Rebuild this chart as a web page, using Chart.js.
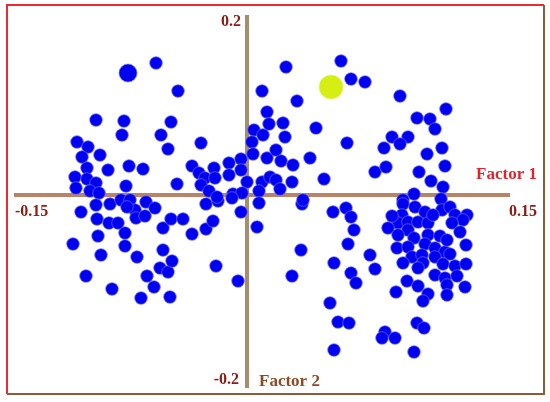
<!DOCTYPE html>
<html>
<head>
<meta charset="utf-8">
<script src="https://cdn.jsdelivr.net/npm/chart.js"></script>
<style>
  html, body { margin: 0; padding: 0; background: #fff; }
  canvas { display: block; }
</style>
</head>
<body>
<canvas id="c" width="550" height="402"></canvas>
<script>
// factor scores
var factor1 = [
  -0.0546,-0.0414,-0.0906,-0.0738,-0.0456,-0.075,-0.0516,-0.102,-0.0954,-0.0276,
  -0.0474,-0.099,-0.0882,-0.096,-0.0834,-0.0708,-0.0624,-0.033,-0.0288,-0.0198,
  -0.0108,-0.0036,-0.0108,-0.0036,-0.1032,-0.096,-0.0906,-0.1026,-0.0942,-0.0888,
  -0.0726,-0.042,-0.0252,-0.0192,-0.0276,-0.0228,0.0,-0.0084,-0.003,
  0.009,0.012,0.0132,0.0042,0.0096,0.003,0.0036,0.012,0.009,0.0072,
  0.0138,0.0234,0.0564,0.0624,0.0708,0.0918,0.03,0.1194,0.102,0.1098,
  0.1128,0.0216,0.0414,0.0228,0.087,0.0966,0.0918,0.06,0.0822,0.117,
  0.0174,0.108,0.0378,0.0204,0.0276,0.1188,0.0768,0.0834,0.1032,0.1104,
  0.1176,0.0462,0.027,0.0174,0.0198,0.1002,
  -0.0996,-0.0906,-0.0822,-0.09,-0.0828,-0.0774,-0.0732,-0.0894,-0.1044,-0.0732,
  -0.0876,-0.066,-0.0966,-0.06,-0.081,-0.0558,-0.0636,-0.0462,-0.0522,-0.0474,
  -0.045,-0.0504,-0.0504,-0.0456,-0.0384,-0.033,-0.0246,-0.0204,-0.0186,-0.0054,
  -0.0036,-0.0246,-0.0174,-0.009,-0.0756,-0.0702,-0.0672,-0.0666,-0.0612,-0.0606,
  -0.0552,-0.018,-0.072,
  0.0072,0.006,0.033,0.0516,0.0594,0.0624,0.0642,0.0606,0.0324,0.0522,
  0.027,0.0624,0.0654,0.0738,0.0768,0.0498,0.0546,0.0612,0.0522,0.0336,
  0.0936,0.1164,0.0936,0.1008,0.1068,0.117,0.1218,0.1248,0.132,0.1296,
  0.123,0.093,0.0906,0.0966,0.1026,0.0846,0.1086,0.0966,0.1278,0.0906,
  0.1002,0.1086,0.1158,0.1068,0.09,0.0966,0.1314,0.1128,0.1188,0.1218,
  0.099,0.105,0.1128,0.1056,0.1176,0.1248,0.1314,0.1128,0.1188,0.096,
  0.1026,0.0894,0.12,0.12,0.1308,0.1086,0.1056,0.102,0.1062,0.0828,
  0.081,0.0888,0.1002,0.087,0.1116,0.12,0.1026,0.126,0.0936
];
var factor2 = [
  0.1452,0.1144,0.0825,0.0814,0.0803,0.066,0.066,0.0583,0.0528,0.0572,
  0.0506,0.0418,0.044,0.0297,0.0275,0.0319,0.0286,0.0319,0.0242,0.0297,
  0.0352,0.0396,0.022,0.0275,0.0198,0.0176,0.0132,0.0077,0.0044,0.0022,
  0.0099,0.0121,0.0187,0.0187,0.011,0.0044,0.0143,0.0011,0.0022,
  0.1144,0.0913,0.0781,0.0715,0.066,0.0583,0.0451,0.0407,0.0143,0.0044,
  0.0198,0.1408,0.1474,0.1276,0.1243,0.1089,0.1034,0.0946,0.0847,0.0836,
  0.0726,0.0792,0.0737,0.0638,0.0638,0.0638,0.0561,0.0572,0.0517,0.0517,
  0.0495,0.0451,0.0407,0.0374,0.033,0.0319,0.0253,0.0308,0.0253,0.0154,
  0.0088,0.0176,0.0143,0.0165,0.0066,0.0011,
  -0.0187,-0.011,-0.0099,-0.0264,-0.0308,-0.0308,-0.0418,-0.0451,-0.0539,-0.0561,
  -0.066,-0.0682,-0.0891,-0.0891,-0.1034,-0.1012,-0.1133,-0.1122,-0.0803,-0.0847,
  -0.0726,-0.0605,-0.0363,-0.0264,-0.0264,-0.0429,-0.0374,-0.0286,-0.0781,-0.0946,
  -0.0187,-0.0099,-0.0066,-0.0033,-0.0055,-0.0055,-0.0165,-0.0253,-0.0231,-0.0077,
  -0.0143,-0.0022,-0.0132,
  -0.0088,-0.0352,-0.0099,-0.0187,-0.0143,-0.0242,-0.0385,-0.0539,-0.0605,-0.0748,
  -0.0891,-0.0858,-0.0968,-0.066,-0.0814,-0.1188,-0.1397,-0.1408,-0.1705,-0.0055,
  -0.0055,-0.0044,-0.0099,-0.0132,-0.0187,-0.0165,-0.0132,-0.022,-0.022,-0.0275,
  -0.0308,-0.022,-0.0308,-0.0297,-0.0297,-0.0363,-0.0308,-0.0385,-0.0407,-0.044,
  -0.0473,-0.044,-0.0451,-0.0539,-0.0583,-0.0572,-0.055,-0.0583,-0.0627,-0.0649,
  -0.0682,-0.066,-0.0682,-0.0748,-0.0759,-0.0781,-0.0759,-0.088,-0.0913,-0.0946,
  -0.1001,-0.1067,-0.099,-0.11,-0.1012,-0.1089,-0.1166,-0.1408,-0.1463,-0.1507,
  -0.1573,-0.1573,-0.1727,-0.0231,-0.022,-0.0495,-0.0803,-0.0891,-0.0748
];
// the two highlighted cases
var bigPoint = [-0.0714, 0.1342];
var yellowPoint = [0.0504, 0.1188];

var xTickLabels = ['-0.15', '0.15'];
var yTickLabels = ['0.2', '-0.2'];
var axisTitles = ['Factor 1', 'Factor 2'];

// drawn extent of the two axis lines
var xAxisEnds = [-0.1398, 0.1578];
var yAxisEnds = [0.198, -0.2123];

var pts = [];
for (var i = 0; i < factor1.length; i++) {
  pts.push({ x: factor1[i], y: factor2[i] });
}

var serif = '"Liberation Serif", "DejaVu Serif", serif';

var framePlugin = {
  id: 'frame',
  beforeDatasetsDraw: function (chart) {
    var ctx = chart.ctx;
    var xs = chart.scales.x, ys = chart.scales.y;
    ctx.save();
    // page frame
    ctx.lineWidth = 2;
    ctx.strokeStyle = '#ee2a30';
    ctx.beginPath();
    ctx.moveTo(7, 394); ctx.lineTo(7, 5); ctx.lineTo(544, 5);
    ctx.stroke();
    ctx.strokeStyle = '#8e5a3a';
    ctx.beginPath();
    ctx.moveTo(544, 5); ctx.lineTo(544, 394); ctx.lineTo(7, 394);
    ctx.stroke();
    // axis cross
    var x0 = xs.getPixelForValue(0), y0 = ys.getPixelForValue(0);
    ctx.lineWidth = 4;
    ctx.strokeStyle = '#b98466';
    ctx.beginPath();
    ctx.moveTo(xs.getPixelForValue(xAxisEnds[0]), y0);
    ctx.lineTo(xs.getPixelForValue(xAxisEnds[1]), y0);
    ctx.stroke();
    ctx.strokeStyle = '#a88c6e';
    ctx.beginPath();
    ctx.moveTo(x0, ys.getPixelForValue(yAxisEnds[0]));
    ctx.lineTo(x0, ys.getPixelForValue(yAxisEnds[1]));
    ctx.stroke();
    ctx.restore();
  },
  afterDatasetsDraw: function (chart) {
    var ctx = chart.ctx;
    var xs = chart.scales.x, ys = chart.scales.y;
    var x0 = xs.getPixelForValue(0), y0 = ys.getPixelForValue(0);
    var xl = xs.getPixelForValue(xAxisEnds[0]), xr = xs.getPixelForValue(xAxisEnds[1]);
    var yt = ys.getPixelForValue(yAxisEnds[0]), yb = ys.getPixelForValue(yAxisEnds[1]);
    ctx.save();
    ctx.textBaseline = 'middle';
    ctx.font = 'bold 16px ' + serif;
    ctx.fillStyle = '#8a1c12';
    ctx.textAlign = 'left';
    ctx.fillText(xTickLabels[0], xl + 1, y0 + 17);
    ctx.textAlign = 'right';
    ctx.fillText(xTickLabels[1], xr + 27, y0 + 17);
    ctx.fillText(yTickLabels[0], x0 - 6, yt + 7);
    ctx.fillText(yTickLabels[1], x0 - 8, yb - 8);
    ctx.font = 'bold 17px ' + serif;
    ctx.fillStyle = '#e3222c';
    ctx.fillText(axisTitles[0], xr + 27, y0 - 20);
    ctx.textAlign = 'left';
    ctx.fillStyle = '#8c4a26';
    ctx.fillText(axisTitles[1], x0 + 12, yb - 6);
    ctx.restore();
  }
};

new Chart(document.getElementById('c'), {
  type: 'scatter',
  data: {
    datasets: [
      {
        label: 'cases',
        data: pts,
        pointRadius: 6.3,
        pointBackgroundColor: '#0000f0',
        pointBorderColor: 'rgba(110,110,255,0.7)',
        pointBorderWidth: 1
      },
      {
        label: 'highlight',
        data: [{ x: bigPoint[0], y: bigPoint[1] }],
        pointRadius: 9,
        pointBackgroundColor: '#0000f0',
        pointBorderColor: 'rgba(110,110,255,0.7)',
        pointBorderWidth: 1
      },
      {
        label: 'centroid',
        data: [{ x: yellowPoint[0], y: yellowPoint[1] }],
        pointRadius: 12,
        pointBackgroundColor: '#d6ee12',
        pointBorderColor: 'rgba(230,245,120,0.8)',
        pointBorderWidth: 1
      }
    ]
  },
  options: {
    responsive: false,
    animation: false,
    layout: { padding: 0, autoPadding: false },
    plugins: { legend: { display: false }, tooltip: { enabled: false } },
    scales: {
      x: { type: 'linear', display: false, min: -0.1482, max: 0.1818 },
      y: { type: 'linear', display: false, min: -0.2277, max: 0.2145 }
    }
  },
  plugins: [framePlugin]
});
</script>
</body>
</html>
